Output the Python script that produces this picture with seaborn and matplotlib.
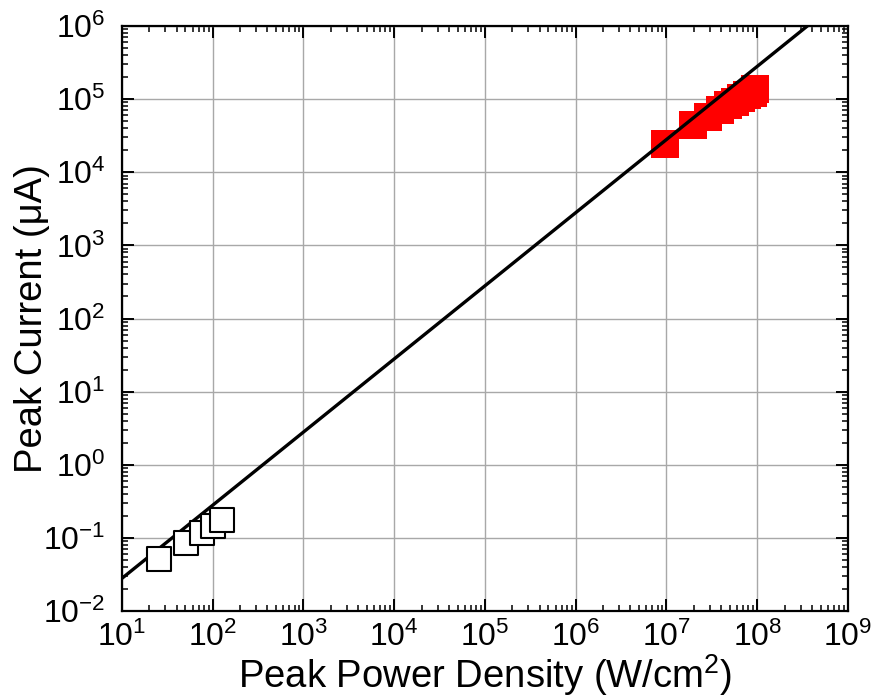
import numpy as np
import pandas as pd
import matplotlib
matplotlib.use("Agg")
import matplotlib.pyplot as plt
import matplotlib.ticker as mticker
import seaborn as sns

# ---- data ----
low_power = [25.3, 50.7, 76.2, 100.7, 126.5]          # W/cm^2
low_current = [0.0516, 0.0855, 0.117, 0.1445, 0.176]  # uA

high_power = [9.7e6, 1.97e7, 2.90e7, 3.87e7, 4.79e7, 5.72e7, 6.70e7, 7.81e7, 8.93e7, 9.48e7]
high_current = [2.47e4, 4.45e4, 5.78e4, 7.14e4, 8.26e4, 9.19e4, 1.02e5, 1.13e5, 1.23e5, 1.37e5]

fit_power = [1e1, 1e9]
fit_coeff = 0.0028
fit_exponent = 1.0

x_ticks = [1e1, 1e2, 1e3, 1e4, 1e5, 1e6, 1e7, 1e8, 1e9]
y_ticks = [1e-2, 1e-1, 1e0, 1e1, 1e2, 1e3, 1e4, 1e5, 1e6]

sns.set_style("ticks")
plt.rcParams['font.family'] = ['Liberation Sans', 'DejaVu Sans']
plt.rcParams['mathtext.fontset'] = 'custom'
plt.rcParams['mathtext.rm'] = 'Liberation Sans'
plt.rcParams['mathtext.it'] = 'Liberation Sans:italic'
plt.rcParams['text.color'] = 'black'
plt.rcParams['axes.labelcolor'] = 'black'
plt.rcParams['xtick.color'] = 'black'
plt.rcParams['ytick.color'] = 'black'
plt.rcParams['axes.unicode_minus'] = False

fig = plt.figure(figsize=(8.75, 7.0), dpi=100)
ax = fig.add_axes([0.1394, 0.1271, 0.8297, 0.8358])

low_df = pd.DataFrame({"power": low_power, "current": low_current})
high_df = pd.DataFrame({"power": high_power, "current": high_current})
fit_df = pd.DataFrame({"power": fit_power,
                       "current": [fit_coeff * p ** fit_exponent for p in fit_power]})

sns.scatterplot(data=high_df, x="power", y="current", ax=ax, marker="s",
                s=400, color="#ff0000", edgecolor="#ff0000", linewidth=0, zorder=3)
sns.lineplot(data=fit_df, x="power", y="current", ax=ax, color="black",
             linewidth=2.4, zorder=4)
sns.scatterplot(data=low_df, x="power", y="current", ax=ax, marker="s",
                s=310, facecolor="white", edgecolor="black", linewidth=1.5, zorder=5)

ax.set_xscale("log")
ax.set_yscale("log")
ax.set_xlim(1e1, 1e9)
ax.set_ylim(1e-2, 1e6)
ax.set_xticks(x_ticks)
ax.set_yticks(y_ticks)
ax.xaxis.set_major_formatter(mticker.LogFormatterSciNotation())
ax.yaxis.set_major_formatter(mticker.LogFormatterSciNotation())
ax.xaxis.set_minor_locator(mticker.LogLocator(base=10, subs=np.arange(2, 10), numticks=20))
ax.yaxis.set_minor_locator(mticker.LogLocator(base=10, subs=np.arange(2, 10), numticks=20))
ax.xaxis.set_minor_formatter(mticker.NullFormatter())
ax.yaxis.set_minor_formatter(mticker.NullFormatter())

ax.grid(True, which="major", color="#a8a8a8", linewidth=1.0)
ax.set_axisbelow(True)

for sp in ax.spines.values():
    sp.set_visible(True)
    sp.set_linewidth(1.6)
    sp.set_color("black")

ax.tick_params(which="both", direction="in", top=True, right=True,
               bottom=True, left=True, colors="black")
ax.tick_params(which="major", length=8.5, width=1.4, labelsize=23)
ax.tick_params(axis="x", which="major", pad=8)
ax.tick_params(axis="y", which="major", pad=12)
ax.tick_params(which="minor", length=4.3, width=1.1)

ax.set_xlabel("Peak Power Density (W/cm$^\\mathregular{2}$)", fontsize=27.5)
ax.set_ylabel("Peak Current (\u03bcA)", fontsize=27.5)
ax.xaxis.set_label_coords(0.5, -0.070)
ax.yaxis.set_label_coords(-0.099, 0.5)

fig.savefig("out.png", dpi=100)
